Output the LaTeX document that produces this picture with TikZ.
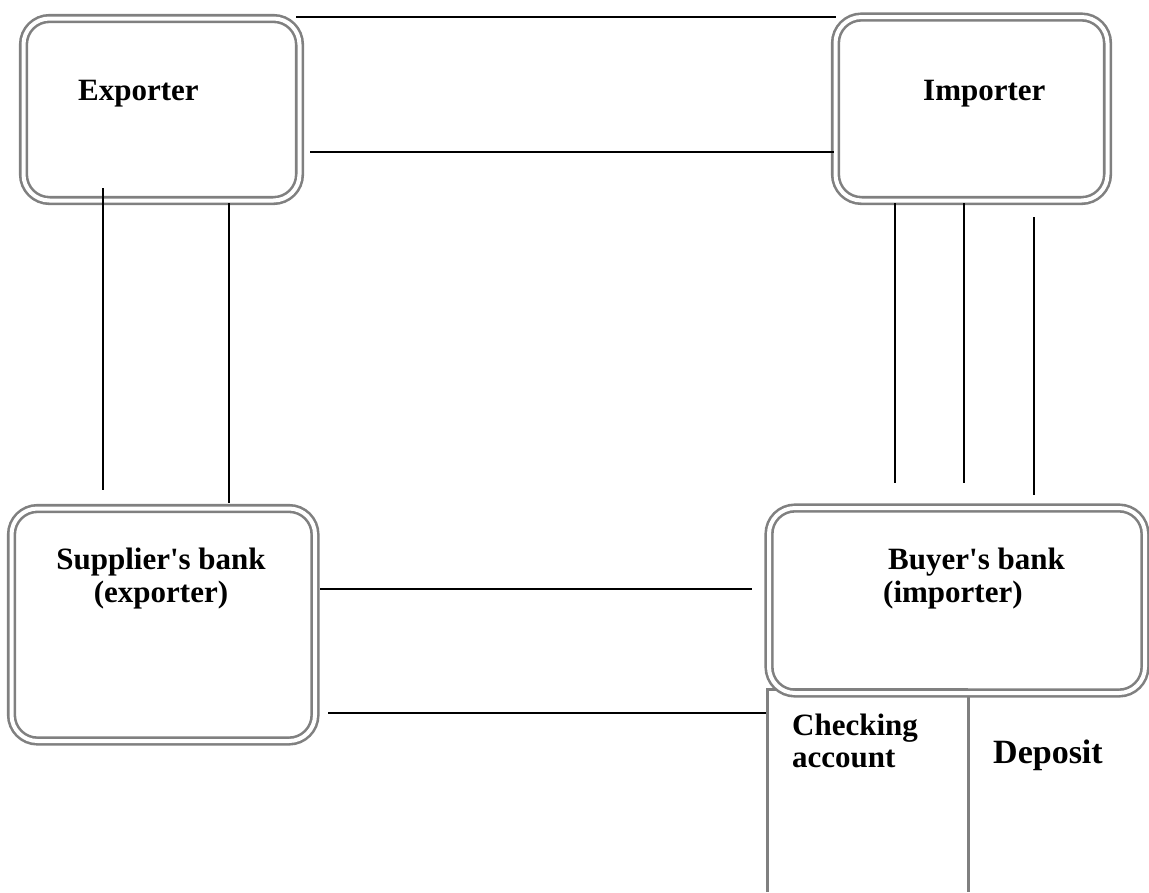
\documentclass[tikz,border=0pt]{standalone}
\usepackage{fontspec}
\setmainfont{Liberation Serif}
\begin{document}
\begin{tikzpicture}[x=1pt,y=-1pt,
  box/.style={rectangle, draw={rgb,255:red,128;green,128;blue,128}, double=white, double distance=4pt, line width=2.6pt, rounded corners=26pt, inner sep=0pt},
  tbl/.style={draw={rgb,255:red,128;green,128;blue,128}, line width=3pt},
  conn/.style={draw=black, line width=1.8pt},
  lbl/.style={inner sep=0pt, font=\fontsize{31}{33}\selectfont\bfseries}
]
\useasboundingbox (0,0) rectangle (1149,892);
% table under buyer's bank
\draw[tbl] (767,892) -- (767,689) -- (968,689);
\draw[tbl] (968,689) -- (968,892);
% boxes
\node[box, minimum width=276pt, minimum height=182pt] (exp) at (161.5,109.5) {};
\node[box, minimum width=272pt, minimum height=183.5pt] (imp) at (971.5,108.75) {};
\node[box, minimum width=303.5pt, minimum height=232.5pt] (sup) at (163.25,624.75) {};
\node[box, minimum width=376pt, minimum height=185pt] (buy) at (957,600.5) {};
% labels
\node[lbl, anchor=base west] (texp) at (78,100) {Exporter};
\node[lbl, anchor=base west] (timp) at (923,100) {Importer};
\node[lbl, anchor=base, align=center] (tsup) at (161,602) {Supplier\textquotesingle s bank\\(exporter)};
\node[lbl, anchor=base west, align=left] (tbuy) at (883,602) {\hspace*{5pt}Buyer\textquotesingle s bank\\(importer)};
\node[lbl, anchor=base west, align=left, font=\fontsize{31}{32}\selectfont\bfseries] (tchk) at (792,767) {Checking\\account};
\node[lbl, anchor=base west, font=\fontsize{34}{36}\selectfont\bfseries] (tdep) at (993,763) {Deposit};
% connector end points
\coordinate (a1) at (296,17);  \coordinate (a2) at (836,17);
\coordinate (b1) at (310,152); \coordinate (b2) at (834,152);
\coordinate (c1) at (103,188); \coordinate (c2) at (103,490);
\coordinate (d1) at (229,203); \coordinate (d2) at (229,503);
\coordinate (e1) at (895,203); \coordinate (e2) at (895,483);
\coordinate (f1) at (964,203); \coordinate (f2) at (964,483);
\coordinate (g1) at (1034,217); \coordinate (g2) at (1034,495);
\coordinate (h1) at (320,589); \coordinate (h2) at (752,589);
\coordinate (i1) at (328,713); \coordinate (i2) at (766,713);
\draw[conn] (a1) -- (a2);
\draw[conn] (b1) -- (b2);
\draw[conn] (c1) -- (c2);
\draw[conn] (d1) -- (d2);
\draw[conn] (e1) -- (e2);
\draw[conn] (f1) -- (f2);
\draw[conn] (g1) -- (g2);
\draw[conn] (h1) -- (h2);
\draw[conn] (i1) -- (i2);
\end{tikzpicture}
\end{document}
